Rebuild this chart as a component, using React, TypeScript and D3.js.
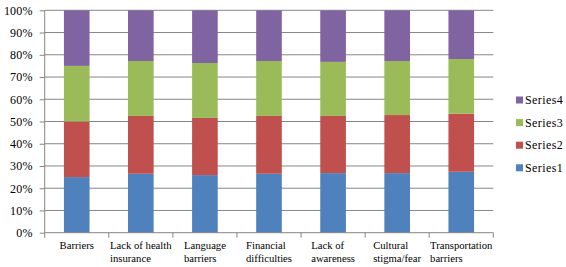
import * as d3 from 'd3';
import { useEffect, useRef } from 'react';

const categories = [
    ['Barriers'],
    ['Lack of health', 'insurance'],
    ['Language', 'barriers'],
    ['Financial', 'difficulties'],
    ['Lack of', 'awareness'],
    ['Cultural', 'stigma/fear'],
    ['Transportation', 'barriers'],
];

const seriesNames = ['Series1', 'Series2', 'Series3', 'Series4'];
const series1 = [25, 26.5, 25.9, 26.5, 26.8, 26.8, 27.4];
const series2 = [25, 26, 25.7, 26, 25.7, 26.1, 26.1];
const series3 = [25, 24.7, 24.7, 24.7, 24.3, 24.3, 24.6];
const series4 = [25, 22.8, 23.7, 22.8, 23.2, 22.8, 21.9];
const yTicks = [0, 0.1, 0.2, 0.3, 0.4, 0.5, 0.6, 0.7, 0.8, 0.9, 1];

const COLORS = ['#4F81BD', '#C0504D', '#9BBB59', '#8064A2'];
const WIDTH = 566;
const HEIGHT = 267;
const FONT = "'Liberation Serif', 'Times New Roman', serif";

export default function App() {
    const svgRef = useRef<SVGSVGElement>(null);

    useEffect(() => {
        if (!svgRef.current) return;
        const svg = d3.select(svgRef.current);
        svg.selectAll('*').remove();

        const left = 44.7;
        const right = 493.3;
        const top = 10.3;
        const bottom = 232.7;

        const keys = categories.map((c) => c.join(' '));
        // 100% stacked: normalise each column to its total
        const rows = keys.map((k, i) => {
            const total = series1[i] + series2[i] + series3[i] + series4[i];
            return {
                key: k,
                Series1: series1[i] / total,
                Series2: series2[i] / total,
                Series3: series3[i] / total,
                Series4: series4[i] / total,
            };
        });

        const x = d3.scaleBand().domain(keys).range([left, right]).paddingInner(0.6).paddingOuter(0.3);
        const y = d3.scaleLinear().domain([0, 1]).range([bottom, top]);
        const stacked = d3.stack<any>().keys(seriesNames)(rows);

        // gridlines
        svg.append('g')
            .selectAll('line')
            .data(yTicks.slice(1))
            .join('line')
            .attr('x1', left)
            .attr('x2', right)
            .attr('y1', (d) => y(d))
            .attr('y2', (d) => y(d))
            .attr('stroke', '#868686')
            .attr('stroke-width', 1);

        // bars
        svg.append('g')
            .selectAll('g')
            .data(stacked)
            .join('g')
            .attr('fill', (_, i) => COLORS[i])
            .selectAll('rect')
            .data((d) => d)
            .join('rect')
            .attr('x', (d) => x(d.data.key)!)
            .attr('width', x.bandwidth())
            .attr('y', (d) => y(d[1]))
            .attr('height', (d) => y(d[0]) - y(d[1]));

        // y axis
        const yAxis = svg.append('g').attr('transform', `translate(${left},0)`);
        yAxis.call(
            d3
                .axisLeft(y)
                .tickValues(yTicks)
                .tickSize(5)
                .tickPadding(7)
                .tickFormat(d3.format('.0%'))
        );
        yAxis.select('.domain').attr('stroke', '#868686').attr('d', `M0,${top}V${bottom}`);
        yAxis.selectAll('.tick line').attr('stroke', '#868686');
        yAxis
            .selectAll('.tick text')
            .attr('fill', '#000')
            .attr('font-family', FONT)
            .attr('font-size', 12)
            .attr('letter-spacing', 0.2);

        // x axis
        const step = x.step();
        const bounds = d3.range(categories.length + 1).map((i) => left + i * step);
        const xAxis = svg.append('g');
        xAxis
            .append('line')
            .attr('x1', left)
            .attr('x2', right)
            .attr('y1', bottom)
            .attr('y2', bottom)
            .attr('stroke', '#868686');
        xAxis
            .selectAll('line.tick')
            .data(bounds)
            .join('line')
            .attr('class', 'tick')
            .attr('x1', (d) => d)
            .attr('x2', (d) => d)
            .attr('y1', bottom)
            .attr('y2', bottom + 5)
            .attr('stroke', '#868686');

        // category labels: block centred, lines left-aligned
        categories.forEach((lines, i) => {
            const cx = x(keys[i])! + x.bandwidth() / 2;
            const t = xAxis
                .append('text')
                .attr('font-family', FONT)
                .attr('font-size', 10.67)
                .attr('fill', '#000');
            lines.forEach((line, j) => {
                t.append('tspan').attr('y', 249 + j * 12.7).text(line);
            });
            const widths = t.selectAll<SVGTSpanElement, unknown>('tspan').nodes().map((n) => n.getComputedTextLength());
            const x0 = cx - d3.max(widths)! / 2;
            t.selectAll('tspan').attr('x', x0);
        });

        // legend
        const legend = svg
            .append('g')
            .selectAll('g')
            .data(seriesNames.slice().reverse())
            .join('g')
            .attr('transform', (_, i) => `translate(516,${100 + i * 22.6})`);
        legend
            .append('rect')
            .attr('x', 0)
            .attr('y', -3.5)
            .attr('width', 7)
            .attr('height', 7)
            .attr('fill', (d) => COLORS[seriesNames.indexOf(d)]);
        legend
            .append('text')
            .attr('x', 9)
            .attr('dy', '0.35em')
            .attr('font-family', FONT)
            .attr('font-size', 12)
            .attr('letter-spacing', 0.4)
            .attr('fill', '#000')
            .text((d) => d);
    }, []);

    return (
        <svg
            ref={svgRef}
            width={WIDTH}
            height={HEIGHT}
            viewBox={`0 0 ${WIDTH} ${HEIGHT}`}
            style={{ position: 'absolute', left: 0, top: 0, background: '#fff' }}
        />
    );
}
